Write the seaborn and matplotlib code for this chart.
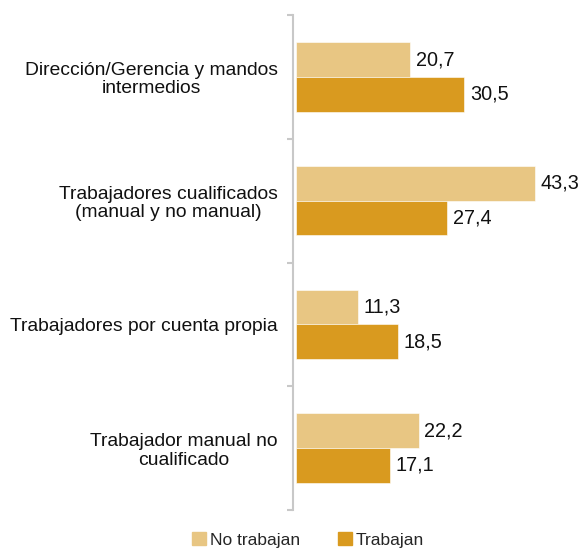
import pandas as pd
import matplotlib.pyplot as plt
import seaborn as sns

# === Data ===
categories = [
    "Dirección/Gerencia y mandos\nintermedios",
    "Trabajadores cualificados\n(manual y no manual)",
    "Trabajadores por cuenta propia",
    "Trabajador manual no\ncualificado",
]
no_trabajan = [20.7, 43.3, 11.3, 22.2]
trabajan = [30.5, 27.4, 18.5, 17.1]
series = ["No trabajan", "Trabajan"]
colors = ["#E8C683", "#D99A1F"]

df = pd.DataFrame({
    "categoria": categories * 2,
    "valor": no_trabajan + trabajan,
    "serie": [series[0]] * 4 + [series[1]] * 4,
})

sns.set_style("white")
plt.rcParams["font.family"] = ["Liberation Sans", "DejaVu Sans"]

# === Plot ===
fig = plt.figure(figsize=(5.82, 5.49), dpi=100)
ax = fig.add_axes([293 / 582, 39 / 549, 289 / 582, 495 / 549])
sns.barplot(data=df, y="categoria", x="valor", hue="serie", orient="h",
            palette=colors, saturation=1, width=0.56, gap=0, ax=ax,
            edgecolor="white", linewidth=0.4, legend=False)

for cont in ax.containers:
    ax.bar_label(cont, labels=[f"{v:.1f}".replace(".", ",") for v in cont.datavalues],
                 padding=4, fontsize=14.3, color="#111111")

ax.set_xlim(-0.55, 51.8)
ax.set_ylim(3.5, -0.5)
ax.set_xlabel("")
ax.set_ylabel("")
ax.set_xticks([])

ax.set_yticks([-0.5, 0.5, 1.5, 2.5, 3.5], labels=[])
ax.set_yticks(range(4), labels=categories, minor=True)
ax.tick_params(axis="y", which="major", length=4, width=1.5, color="#C8C8C8", left=True)
ax.tick_params(axis="y", which="minor", length=0, pad=11, labelsize=13.9, labelcolor="#111111")
for lab in ax.get_yticklabels(minor=True):
    lab.set_horizontalalignment("right")
    lab.set_multialignment("center")
    lab.set_linespacing(1.12)

for s in ["top", "right", "bottom"]:
    ax.spines[s].set_visible(False)
ax.spines["left"].set_color("#C8C8C8")
ax.spines["left"].set_linewidth(1.5)

handles = [plt.Rectangle((0, 0), 1, 1, color=c) for c in colors]
fig.legend(handles, series, loc="center", bbox_to_anchor=(308 / 582, 9 / 549),
           ncol=2, frameon=False, fontsize=12.5, handlelength=0.8, handleheight=0.8,
           handletextpad=0.2, columnspacing=2.2)

fig.savefig("out.png", dpi=100)
